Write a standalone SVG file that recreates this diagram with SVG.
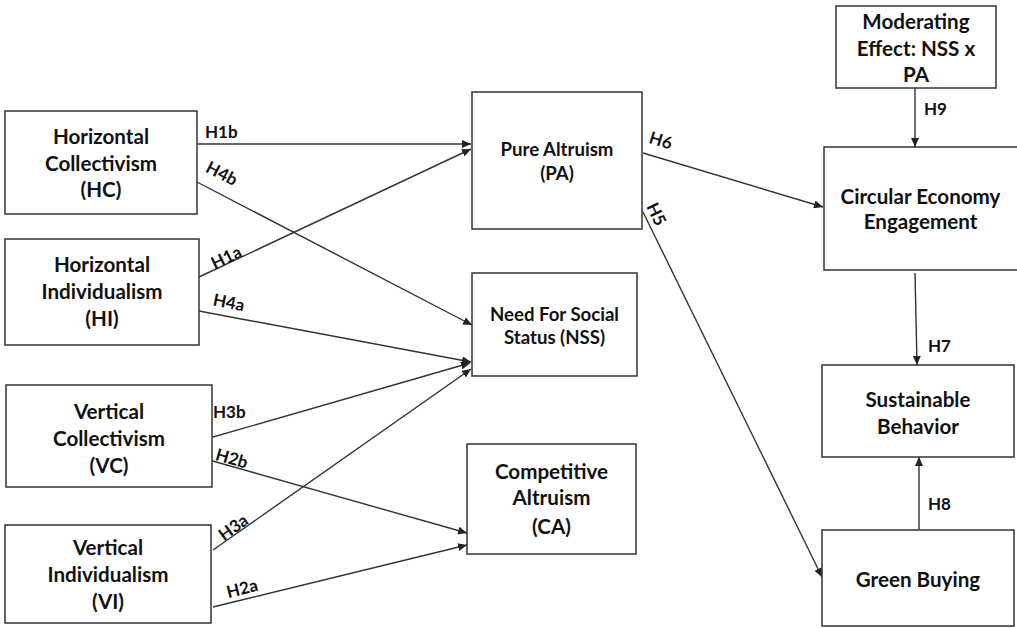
<svg xmlns="http://www.w3.org/2000/svg" width="1017" height="628" viewBox="0 0 1017 628">
<defs>
<marker id="arr" markerUnits="userSpaceOnUse" markerWidth="10" markerHeight="8" refX="9" refY="4" orient="auto">
<path d="M0,0 L9,4 L0,8 z" fill="#222"/>
</marker>
<style>
.box{fill:#fff;stroke:#333;stroke-width:1.5}
.t{font-family:Lato,"Liberation Sans",sans-serif;font-weight:bold;font-size:20.6px;fill:#111;text-anchor:middle}
.ts{font-size:18.6px}
.c{stroke:#333;stroke-width:1.4;fill:none;marker-end:url(#arr)}
.l{font-family:Lato,"Liberation Sans",sans-serif;font-weight:bold;font-size:17px;fill:#111}
.lc{text-anchor:middle;dominant-baseline:central}
</style>
</defs>
<rect width="1017" height="628" fill="#fff"/>
<g id="connectors">
<line class="c" x1="197" y1="144" x2="471" y2="144"/>
<line class="c" x1="199" y1="277" x2="471" y2="149"/>
<line class="c" x1="197" y1="182" x2="472" y2="325"/>
<line class="c" x1="199" y1="311" x2="471" y2="362"/>
<line class="c" x1="213" y1="437" x2="470" y2="363"/>
<line class="c" x1="213" y1="550" x2="471" y2="369"/>
<line class="c" x1="209" y1="460" x2="467" y2="533"/>
<line class="c" x1="213" y1="607" x2="467" y2="545"/>
<line class="c" x1="643" y1="153" x2="823" y2="207"/>
<line class="c" x1="643" y1="212" x2="822" y2="577"/>
<line class="c" x1="915" y1="88" x2="915" y2="147"/>
<line class="c" x1="915" y1="273" x2="917" y2="365"/>
<line class="c" x1="919" y1="530" x2="919" y2="457"/>
<text class="l" x="205" y="138">H1b</text>
<text class="l lc" transform="translate(222,173) rotate(27.6)">H4b</text>
<text class="l lc" transform="translate(226,257) rotate(-26)">H1a</text>
<text class="l lc" transform="translate(229,302) rotate(11)">H4a</text>
<text class="l" x="213" y="418">H3b</text>
<text class="l lc" transform="translate(232,458) rotate(16)">H2b</text>
<text class="l lc" transform="translate(233,527) rotate(-36)">H3a</text>
<text class="l lc" transform="translate(242,588) rotate(-14)">H2a</text>
<text class="l lc" transform="translate(661,140) rotate(17)">H6</text>
<text class="l lc" transform="translate(657,214) rotate(64)">H5</text>
<text class="l" x="924" y="115">H9</text>
<text class="l" x="928" y="352">H7</text>
<text class="l" x="928" y="510">H8</text>
</g>
<g id="HC"><rect class="box" x="5" y="111" width="192" height="103"/>
<text class="t" x="101" y="144">Horizontal</text><text class="t" x="101" y="171">Collectivism</text><text class="t" x="101" y="197">(HC)</text></g>
<g id="HI"><rect class="box" x="5" y="239" width="194" height="106"/>
<text class="t" x="102" y="272">Horizontal</text><text class="t" x="102" y="299">Individualism</text><text class="t" x="102" y="326">(HI)</text></g>
<g id="VC"><rect class="box" x="6" y="385" width="206" height="102"/>
<text class="t" x="109" y="419">Vertical</text><text class="t" x="109" y="446">Collectivism</text><text class="t" x="109" y="473">(VC)</text></g>
<g id="VI"><rect class="box" x="5" y="525" width="206" height="98"/>
<text class="t" x="108" y="555">Vertical</text><text class="t" x="108" y="582">Individualism</text><text class="t" x="108" y="609">(VI)</text></g>
<g id="PA"><rect class="box" x="472" y="92" width="170" height="137"/>
<text class="t ts" x="557" y="156">Pure Altruism</text><text class="t ts" x="557" y="180">(PA)</text></g>
<g id="NSS"><rect class="box" x="472" y="273" width="165" height="103"/>
<text class="t ts" x="554.5" y="321">Need For Social</text><text class="t ts" x="554.5" y="344">Status (NSS)</text></g>
<g id="CA"><rect class="box" x="467" y="444" width="169" height="110"/>
<text class="t" x="551.5" y="479">Competitive</text><text class="t" x="551.5" y="505">Altruism</text><text class="t" x="551.5" y="534">(CA)</text></g>
<g id="MOD"><rect class="box" x="836" y="6" width="160" height="82"/>
<text class="t" x="916" y="29">Moderating</text><text class="t" x="916" y="56">Effect: NSS x</text><text class="t" x="916" y="82">PA</text></g>
<g id="CEE"><rect class="box" x="824" y="147" width="196" height="123"/>
<text class="t" x="920.5" y="204">Circular Economy</text><text class="t" x="920.5" y="229">Engagement</text></g>
<g id="SB"><rect class="box" x="822" y="365" width="192" height="92"/>
<text class="t" x="918" y="407">Sustainable</text><text class="t" x="918" y="434">Behavior</text></g>
<g id="GB"><rect class="box" x="822" y="530" width="192" height="96"/>
<text class="t" x="918" y="587">Green Buying</text></g>
</svg>
